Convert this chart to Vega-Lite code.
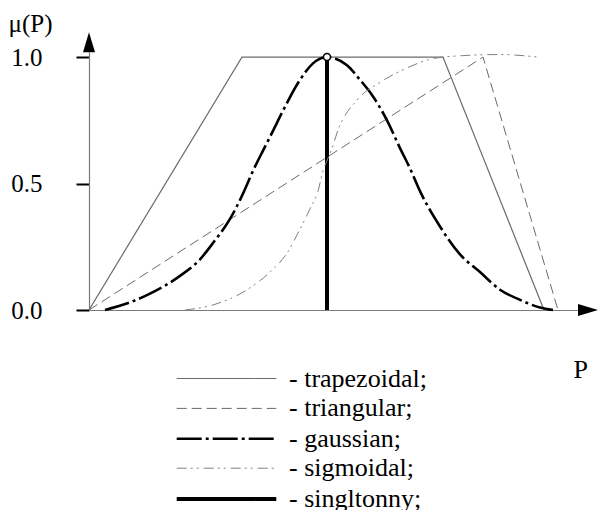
{
  "$schema": "https://vega.github.io/schema/vega-lite/v6.json",
  "width": 491,
  "height": 258,
  "autosize": {"type": "none"},
  "padding": {"left": 89, "top": 52, "right": 18, "bottom": 200},
  "background": "white",
  "config": {
    "view": {"stroke": null},
    "font": "Liberation Serif",
    "axis": {"labelFont": "Liberation Serif", "titleFont": "Liberation Serif"},
    "legend": {"labelFont": "Liberation Serif"}
  },
  "datasets": {
    "curves": [
      {"s": "trapezoidal", "k": "lin", "o": 1, "P": 0, "mu": 0},
      {"s": "trapezoidal", "k": "lin", "o": 2, "P": 153, "mu": 1},
      {"s": "trapezoidal", "k": "lin", "o": 3, "P": 354, "mu": 1},
      {"s": "trapezoidal", "k": "lin", "o": 4, "P": 455, "mu": 0},
      {"s": "triangular", "k": "lin", "o": 1, "P": 0, "mu": 0},
      {"s": "triangular", "k": "lin", "o": 2, "P": 394, "mu": 1},
      {"s": "triangular", "k": "lin", "o": 3, "P": 469, "mu": 0},
      {"s": "gaussian", "k": "smooth", "o": 1, "P": 16, "mu": 0},
      {"s": "gaussian", "k": "smooth", "o": 2, "P": 41, "mu": 0.03},
      {"s": "gaussian", "k": "smooth", "o": 3, "P": 61, "mu": 0.065},
      {"s": "gaussian", "k": "smooth", "o": 4, "P": 91, "mu": 0.135},
      {"s": "gaussian", "k": "smooth", "o": 5, "P": 111, "mu": 0.2},
      {"s": "gaussian", "k": "smooth", "o": 6, "P": 124, "mu": 0.265},
      {"s": "gaussian", "k": "smooth", "o": 7, "P": 141, "mu": 0.36},
      {"s": "gaussian", "k": "smooth", "o": 8, "P": 154, "mu": 0.46},
      {"s": "gaussian", "k": "smooth", "o": 9, "P": 164, "mu": 0.55},
      {"s": "gaussian", "k": "smooth", "o": 10, "P": 174, "mu": 0.63},
      {"s": "gaussian", "k": "smooth", "o": 11, "P": 183, "mu": 0.7},
      {"s": "gaussian", "k": "smooth", "o": 12, "P": 193, "mu": 0.78},
      {"s": "gaussian", "k": "smooth", "o": 13, "P": 211, "mu": 0.91},
      {"s": "gaussian", "k": "smooth", "o": 14, "P": 224, "mu": 0.975},
      {"s": "gaussian", "k": "smooth", "o": 15, "P": 238, "mu": 1},
      {"s": "gaussian", "k": "smooth", "o": 16, "P": 258, "mu": 0.968},
      {"s": "gaussian", "k": "smooth", "o": 17, "P": 271, "mu": 0.91},
      {"s": "gaussian", "k": "smooth", "o": 18, "P": 283, "mu": 0.85},
      {"s": "gaussian", "k": "smooth", "o": 19, "P": 298, "mu": 0.75},
      {"s": "gaussian", "k": "smooth", "o": 20, "P": 311, "mu": 0.64},
      {"s": "gaussian", "k": "smooth", "o": 21, "P": 321, "mu": 0.56},
      {"s": "gaussian", "k": "smooth", "o": 22, "P": 331, "mu": 0.47},
      {"s": "gaussian", "k": "smooth", "o": 23, "P": 351, "mu": 0.33},
      {"s": "gaussian", "k": "smooth", "o": 24, "P": 371, "mu": 0.22},
      {"s": "gaussian", "k": "smooth", "o": 25, "P": 391, "mu": 0.15},
      {"s": "gaussian", "k": "smooth", "o": 26, "P": 411, "mu": 0.08},
      {"s": "gaussian", "k": "smooth", "o": 27, "P": 431, "mu": 0.04},
      {"s": "gaussian", "k": "smooth", "o": 28, "P": 451, "mu": 0.01},
      {"s": "gaussian", "k": "smooth", "o": 29, "P": 464, "mu": 0},
      {"s": "sigmoidal", "k": "smooth", "o": 1, "P": 96, "mu": 0},
      {"s": "sigmoidal", "k": "smooth", "o": 2, "P": 124, "mu": 0.02},
      {"s": "sigmoidal", "k": "smooth", "o": 3, "P": 158, "mu": 0.08},
      {"s": "sigmoidal", "k": "smooth", "o": 4, "P": 181, "mu": 0.15},
      {"s": "sigmoidal", "k": "smooth", "o": 5, "P": 198, "mu": 0.225},
      {"s": "sigmoidal", "k": "smooth", "o": 6, "P": 211, "mu": 0.32},
      {"s": "sigmoidal", "k": "smooth", "o": 7, "P": 221, "mu": 0.4},
      {"s": "sigmoidal", "k": "smooth", "o": 8, "P": 229, "mu": 0.47},
      {"s": "sigmoidal", "k": "smooth", "o": 9, "P": 234, "mu": 0.55},
      {"s": "sigmoidal", "k": "smooth", "o": 10, "P": 239, "mu": 0.6},
      {"s": "sigmoidal", "k": "smooth", "o": 11, "P": 244, "mu": 0.65},
      {"s": "sigmoidal", "k": "smooth", "o": 12, "P": 248, "mu": 0.7},
      {"s": "sigmoidal", "k": "smooth", "o": 13, "P": 268, "mu": 0.83},
      {"s": "sigmoidal", "k": "smooth", "o": 14, "P": 291, "mu": 0.9},
      {"s": "sigmoidal", "k": "smooth", "o": 15, "P": 318, "mu": 0.957},
      {"s": "sigmoidal", "k": "smooth", "o": 16, "P": 343, "mu": 0.993},
      {"s": "sigmoidal", "k": "smooth", "o": 17, "P": 371, "mu": 1.005},
      {"s": "sigmoidal", "k": "smooth", "o": 18, "P": 411, "mu": 1.01},
      {"s": "sigmoidal", "k": "smooth", "o": 19, "P": 449, "mu": 1.0},
      {"s": "singltonny", "k": "lin", "o": 1, "P": 238, "mu": 0},
      {"s": "singltonny", "k": "lin", "o": 2, "P": 238, "mu": 1}
    ],
    "peak": [{"P": 238, "mu": 1}],
    "arrows": [
      {"dir": "up", "P": 0, "mu": 1.059},
      {"dir": "right", "P": 499, "mu": 0}
    ]
  },
  "layer": [
    {
      "data": {"name": "curves"},
      "transform": [{"filter": "datum.k === 'lin'"}],
      "mark": {"type": "line", "clip": false},
      "encoding": {
        "x": {
          "field": "P", "type": "quantitative",
          "scale": {"domain": [0, 491], "nice": false, "zero": false},
          "axis": {
            "title": "P", "labels": false, "ticks": false, "grid": false,
            "domainColor": "#7a7a7a", "domainWidth": 1.2,
            "titleFont": "Liberation Serif", "titleFontSize": 26, "titleFontWeight": "normal",
            "titleColor": "black", "titleAlign": "left", "titleBaseline": "alphabetic",
            "titleX": 484, "titleY": 67, "titleAngle": 0
          }
        },
        "y": {
          "field": "mu", "type": "quantitative",
          "scale": {"domain": [0, 1.02], "nice": false, "zero": false},
          "axis": {
            "title": "μ(P)", "values": [0, 0.5, 1], "format": ".1f", "grid": false,
            "domainColor": "#7a7a7a", "domainWidth": 1.2,
            "tickSize": 13, "tickWidth": 2, "tickColor": "black",
            "labelFont": "Liberation Serif", "labelFontSize": 25, "labelColor": "black",
            "labelPadding": 34, "labelBaseline": "middle",
            "titleFont": "Liberation Serif", "titleFontSize": 25, "titleFontWeight": "normal",
            "titleColor": "black", "titleAngle": 0, "titleAlign": "left", "titleBaseline": "alphabetic",
            "titleX": -81, "titleY": -21
          }
        },
        "order": {"field": "o", "type": "quantitative"},
        "color": {
          "field": "s", "type": "nominal",
          "scale": {
            "domain": ["trapezoidal", "triangular", "gaussian", "sigmoidal", "singltonny"],
            "range": ["#6a6a6a", "#6a6a6a", "#000000", "#808080", "#000000"]
          },
          "legend": {
            "title": null, "orient": "none", "legendX": 123, "legendY": 313,
            "direction": "vertical", "padding": 0,
            "symbolType": "M-4,0H4", "symbolSize": 620,
            "labelFont": "Liberation Serif", "labelFontSize": 26, "labelColor": "black",
            "labelOffset": 48, "labelLimit": 0, "rowPadding": 3.4,
            "labelExpr": "'- ' + datum.label + ';'"
          }
        },
        "strokeDash": {
          "field": "s", "type": "nominal",
          "scale": {
            "domain": ["trapezoidal", "triangular", "gaussian", "sigmoidal", "singltonny"],
            "range": [[1, 0], [10, 5], [25, 4, 3, 4], [10, 4, 2, 4, 2, 5], [1, 0]]
          },
          "legend": {
            "title": null, "orient": "none", "legendX": 123, "legendY": 313,
            "direction": "vertical", "padding": 0,
            "symbolType": "M-4,0H4", "symbolSize": 620,
            "labelFont": "Liberation Serif", "labelFontSize": 26, "labelColor": "black",
            "labelOffset": 48, "labelLimit": 0, "rowPadding": 3.4,
            "labelExpr": "'- ' + datum.label + ';'"
          }
        },
        "strokeWidth": {
          "field": "s", "type": "nominal",
          "scale": {
            "type": "ordinal",
            "domain": ["trapezoidal", "triangular", "gaussian", "sigmoidal", "singltonny"],
            "range": [1.2, 1, 2.6, 1, 4]
          },
          "legend": {
            "title": null, "orient": "none", "legendX": 123, "legendY": 313,
            "direction": "vertical", "padding": 0,
            "symbolType": "M-4,0H4", "symbolSize": 620,
            "labelFont": "Liberation Serif", "labelFontSize": 26, "labelColor": "black",
            "labelOffset": 48, "labelLimit": 0, "rowPadding": 3.4,
            "labelExpr": "'- ' + datum.label + ';'"
          }
        }
      }
    },
    {
      "data": {"name": "curves"},
      "transform": [{"filter": "datum.k === 'smooth'"}],
      "mark": {"type": "line", "clip": false, "interpolate": "monotone"},
      "encoding": {
        "x": {"field": "P", "type": "quantitative"},
        "y": {"field": "mu", "type": "quantitative"},
        "order": {"field": "o", "type": "quantitative"},
        "color": {
          "field": "s", "type": "nominal",
          "scale": {
            "domain": ["trapezoidal", "triangular", "gaussian", "sigmoidal", "singltonny"],
            "range": ["#6a6a6a", "#6a6a6a", "#000000", "#808080", "#000000"]
          },
          "legend": {
            "title": null, "orient": "none", "legendX": 123, "legendY": 313,
            "direction": "vertical", "padding": 0,
            "symbolType": "M-4,0H4", "symbolSize": 620,
            "labelFont": "Liberation Serif", "labelFontSize": 26, "labelColor": "black",
            "labelOffset": 48, "labelLimit": 0, "rowPadding": 3.4,
            "labelExpr": "'- ' + datum.label + ';'"
          }
        },
        "strokeDash": {
          "field": "s", "type": "nominal",
          "scale": {
            "domain": ["trapezoidal", "triangular", "gaussian", "sigmoidal", "singltonny"],
            "range": [[1, 0], [10, 5], [25, 4, 3, 4], [10, 4, 2, 4, 2, 5], [1, 0]]
          },
          "legend": {
            "title": null, "orient": "none", "legendX": 123, "legendY": 313,
            "direction": "vertical", "padding": 0,
            "symbolType": "M-4,0H4", "symbolSize": 620,
            "labelFont": "Liberation Serif", "labelFontSize": 26, "labelColor": "black",
            "labelOffset": 48, "labelLimit": 0, "rowPadding": 3.4,
            "labelExpr": "'- ' + datum.label + ';'"
          }
        },
        "strokeWidth": {
          "field": "s", "type": "nominal",
          "scale": {
            "type": "ordinal",
            "domain": ["trapezoidal", "triangular", "gaussian", "sigmoidal", "singltonny"],
            "range": [1.2, 1, 2.6, 1, 4]
          },
          "legend": {
            "title": null, "orient": "none", "legendX": 123, "legendY": 313,
            "direction": "vertical", "padding": 0,
            "symbolType": "M-4,0H4", "symbolSize": 620,
            "labelFont": "Liberation Serif", "labelFontSize": 26, "labelColor": "black",
            "labelOffset": 48, "labelLimit": 0, "rowPadding": 3.4,
            "labelExpr": "'- ' + datum.label + ';'"
          }
        }
      }
    },
    {
      "data": {"name": "peak"},
      "mark": {"type": "point", "shape": "circle", "filled": false, "fill": "white", "fillOpacity": 1, "stroke": "black", "strokeWidth": 1.6, "size": 50, "clip": false, "opacity": 1},
      "encoding": {
        "x": {"field": "P", "type": "quantitative"},
        "y": {"field": "mu", "type": "quantitative"}
      }
    },
    {
      "data": {"name": "arrows"},
      "mark": {"type": "point", "filled": true, "color": "black", "size": 400, "clip": false, "opacity": 1},
      "encoding": {
        "x": {"field": "P", "type": "quantitative"},
        "y": {"field": "mu", "type": "quantitative"},
        "shape": {
          "field": "dir", "type": "nominal",
          "scale": {"domain": ["up", "right"], "range": ["M0,-1L0.6,1L-0.6,1Z", "M1,0L-1,0.6L-1,-0.6Z"]},
          "legend": null
        }
      }
    }
  ]
}
